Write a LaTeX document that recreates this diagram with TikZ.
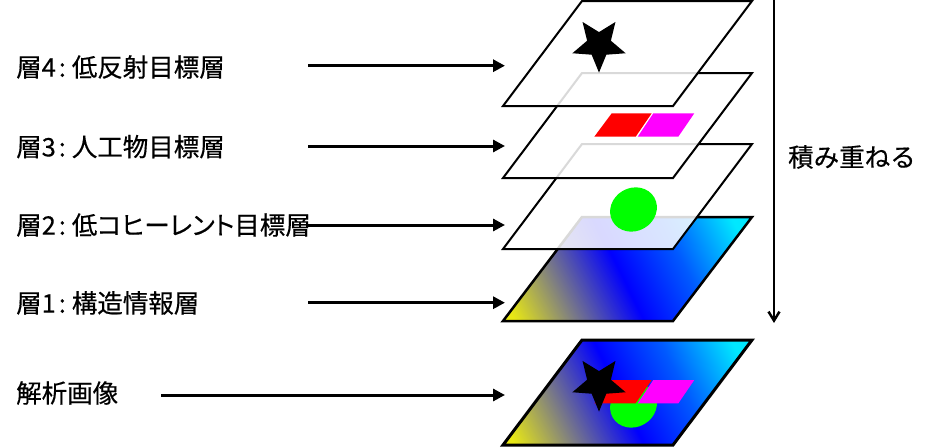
\documentclass[tikz,border=0pt]{standalone}
\usepackage{fontspec}
\setmainfont{Noto Sans CJK JP}[FakeBold=0.35]
\newfontfamily\jpfont{Noto Sans CJK JP}[FakeBold=0.35]
\usetikzlibrary{arrows.meta}
\definecolor{gylw}{RGB}{232,232,20}
\definecolor{ggry}{RGB}{128,128,128}
\definecolor{gblu}{RGB}{0,0,255}
\definecolor{gbl2}{RGB}{0,90,255}
\definecolor{gcyn}{RGB}{0,232,255}
\definecolor{mred}{RGB}{255,0,0}
\definecolor{mmag}{RGB}{255,0,255}
\definecolor{mgrn}{RGB}{0,255,0}
\pgfdeclarehorizontalshading{layergrad}{100bp}{color(0bp)=(gylw); color(19bp)=(gylw); color(32bp)=(ggry); color(48bp)=(gblu); color(63bp)=(gbl2); color(79bp)=(gcyn); color(100bp)=(gcyn)}
\newcommand\lcolon{\makebox[13pt][c]{:}\hspace{3pt}}
\newcommand\kanaprop[1]{{\addfontfeature{RawFeature=+palt}#1}}
\begin{document}
\begin{tikzpicture}[x=1pt,y=-1pt,
  font=\jpfont\fontsize{25.5}{29}\selectfont,
  lbl/.style={anchor=west, inner sep=0pt},
  sheet/.style={draw=black, line width=2pt, fill=white, fill opacity=0.85, line join=miter},
  gradsheet/.style={draw=black, shading=layergrad, shading angle=26, line join=miter},
  arr/.style={line width=3pt, -{Triangle[length=12pt,width=12pt]}},
  vstack/.style={line width=2.5pt, -{Straight Barb[length=9pt,width=11pt]}}]
\useasboundingbox (0,0) rectangle (935,447);

% layer 1: structure information (gradient)
\draw[gradsheet, line width=2.5pt] (582,217) -- (752,217) -- (673,321) -- (503,321) -- cycle;
% layer 2: low coherence
\filldraw[sheet] (582,144) -- (752,144) -- (673,249) -- (503,249) -- cycle;
\fill[mgrn, rotate around={30:(633.5,209.5)}] (633.5,209.5) ellipse [x radius=24, y radius=21.5];
% layer 3: artificial objects
\filldraw[sheet] (582,73) -- (752,73) -- (673,178) -- (503,178) -- cycle;
\fill[mred] (611.7,113.3) -- (651.7,113.3) -- (635.7,136.7) -- (594.3,136.7) -- cycle;
\fill[mmag] (653.3,113.3) -- (694.3,113.3) -- (678.3,136.7) -- (637.7,136.7) -- cycle;
% layer 4: low reflection
\filldraw[sheet] (582,1) -- (752,1) -- (673,106) -- (503,106) -- cycle;
\begin{scope}[shift={(599,44.6)}]
\fill[black] (90:28) -- (126:12.5) -- (162:28) -- (198:12.5) -- (234:28) -- (270:12.5) -- (306:28) -- (342:12.5) -- (18:28) -- (54:12.5) -- cycle;
\end{scope}

% result image
\draw[gradsheet, line width=3pt] (582,340) -- (752,340) -- (673,445) -- (503,445) -- cycle;
\fill[mgrn, rotate around={30:(633.5,405.5)}] (633.5,405.5) ellipse [x radius=24, y radius=21.5];
\fill[mred] (611.7,380) -- (651.7,380) -- (635.7,403.4) -- (594.3,403.4) -- cycle;
\fill[mmag] (653.3,380) -- (694.3,380) -- (678.3,403.4) -- (637.7,403.4) -- cycle;
\begin{scope}[shift={(599,383.6)}]
\fill[black] (90:28) -- (126:12.5) -- (162:28) -- (198:12.5) -- (234:28) -- (270:12.5) -- (306:28) -- (342:12.5) -- (18:28) -- (54:12.5) -- cycle;
\end{scope}

% labels
\node[lbl] (t4) at (16,67) {層4\lcolon 低反射目標層};
\node[lbl] (t3) at (16,146.7) {層3\lcolon 人工物目標層};
\node[lbl] (t2) at (16,225) {層2\lcolon 低\kanaprop{コヒーレント}目標層};
\node[lbl] (t1) at (16,303) {層1\lcolon 構造情報層};
\node[lbl] (tr) at (16,393) {解析画像};
\node[lbl] (ts) at (788,157) {積み重ねる};

% arrows
\coordinate (a4s) at (308,65.7); \coordinate (a4e) at (505,65.7);
\coordinate (a3s) at (308,146); \coordinate (a3e) at (505,146);
\coordinate (a2s) at (308,225); \coordinate (a2e) at (505,225);
\coordinate (a1s) at (308,302.7); \coordinate (a1e) at (505,302.7);
\coordinate (ars) at (161,395); \coordinate (are) at (505,395);
\coordinate (vs) at (774,0); \coordinate (ve) at (774,323);
\draw[arr] (a4s) -- (a4e);
\draw[arr] (a3s) -- (a3e);
\draw[arr] (a2s) -- (a2e);
\draw[arr] (a1s) -- (a1e);
\draw[arr] (ars) -- (are);
\draw[vstack] (vs) -- (ve);
\end{tikzpicture}
\end{document}
